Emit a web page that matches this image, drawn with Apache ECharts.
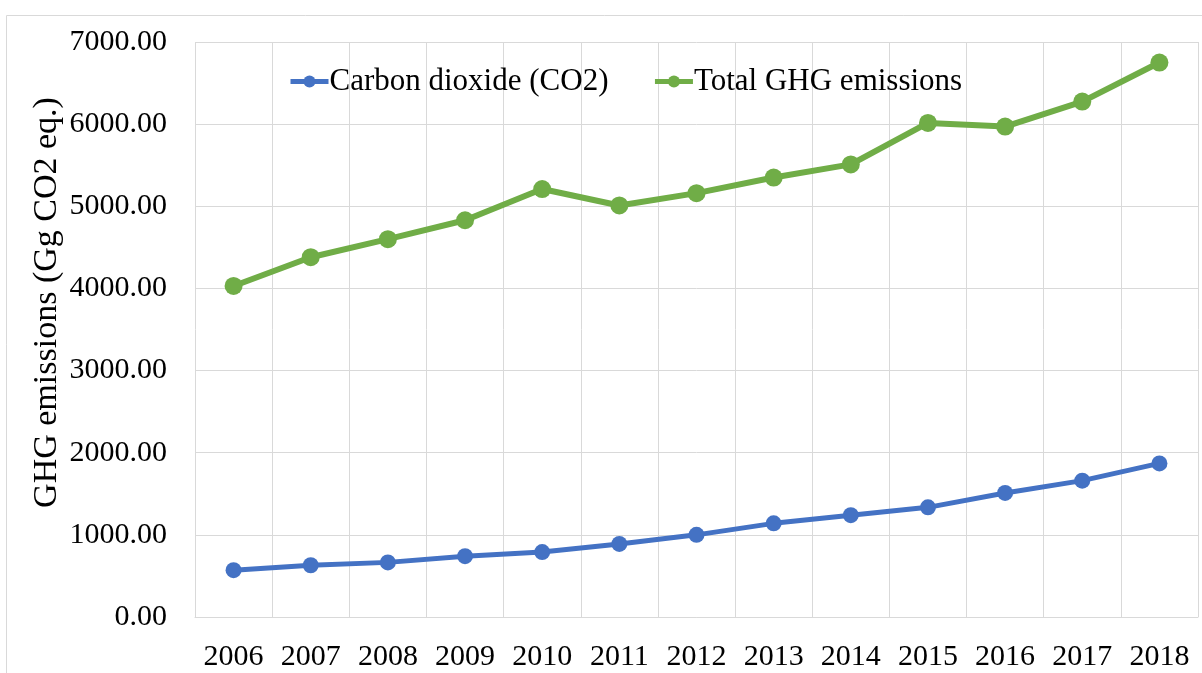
<!DOCTYPE html>
<html>
<head>
<meta charset="utf-8">
<script src="https://cdn.jsdelivr.net/npm/echarts@6/dist/echarts.min.js"></script>
<style>
  html, body { margin: 0; padding: 0; background: #fff; }
  #chart { width: 1202px; height: 673px; }
</style>
</head>
<body>
<div id="chart"></div>
<script>
  const years = ['2006', '2007', '2008', '2009', '2010', '2011', '2012', '2013', '2014', '2015', '2016', '2017', '2018']
  const co2 = [570, 630, 665, 740, 790, 890, 1000, 1140, 1240, 1335, 1510, 1660, 1870]
  const totalGhg = [4030, 4380, 4600, 4830, 5210, 5010, 5160, 5350, 5510, 6015, 5970, 6275, 6750]

  const font = '"Liberation Serif", "Times New Roman", serif'
  const gridColor = '#d9d9d9'

  const chart = echarts.init(document.getElementById('chart'))
  chart.setOption({
    animation: false,
    graphic: [{
      type: 'rect',
      shape: { x: 6.5, y: 15.5, width: 1220, height: 720 },
      style: { fill: 'none', stroke: gridColor, lineWidth: 1 },
      silent: true
    }],
    grid: {
      left: 195,
      right: 4,
      top: 42,
      bottom: 56
    },
    legend: {
      top: 66,
      left: 288,
      padding: 0,
      itemGap: 44,
      itemWidth: 38,
      itemHeight: 15,
      lineStyle: { width: 5 },
      textStyle: { fontFamily: font, fontSize: 31, color: '#000', padding: [0, 0, 0, -4] },
      data: ['Carbon dioxide (CO2)', 'Total GHG emissions']
    },
    xAxis: {
      type: 'category',
      data: years,
      boundaryGap: true,
      axisLine: { show: true, lineStyle: { color: gridColor } },
      axisTick: { show: false },
      axisLabel: { interval: 0, fontFamily: font, fontSize: 30, color: '#000', margin: 25 },
      splitLine: { show: true, interval: 0, lineStyle: { color: gridColor } }
    },
    yAxis: {
      type: 'value',
      min: 0,
      max: 7000,
      interval: 1000,
      name: 'GHG emissions (Gg CO2 eq.)',
      nameLocation: 'middle',
      nameMoveOverlap: false,
      nameGap: 131,
      nameTextStyle: { fontFamily: font, fontSize: 34, color: '#000', padding: [0, 0, 0, 54] },
      axisLine: { show: false },
      axisTick: { show: false },
      axisLabel: {
        fontFamily: font, fontSize: 30, color: '#000', margin: 28,
        formatter: v => v.toFixed(2)
      },
      splitLine: { lineStyle: { color: gridColor } }
    },
    series: [{
      name: 'Carbon dioxide (CO2)',
      type: 'line',
      data: co2,
      symbol: 'circle',
      symbolSize: 16,
      itemStyle: { color: '#4472c4' },
      lineStyle: { color: '#4472c4', width: 5 }
    }, {
      name: 'Total GHG emissions',
      type: 'line',
      data: totalGhg,
      symbol: 'circle',
      symbolSize: 18,
      itemStyle: { color: '#70ad47' },
      lineStyle: { color: '#70ad47', width: 6 }
    }]
  })
</script>
</body>
</html>
